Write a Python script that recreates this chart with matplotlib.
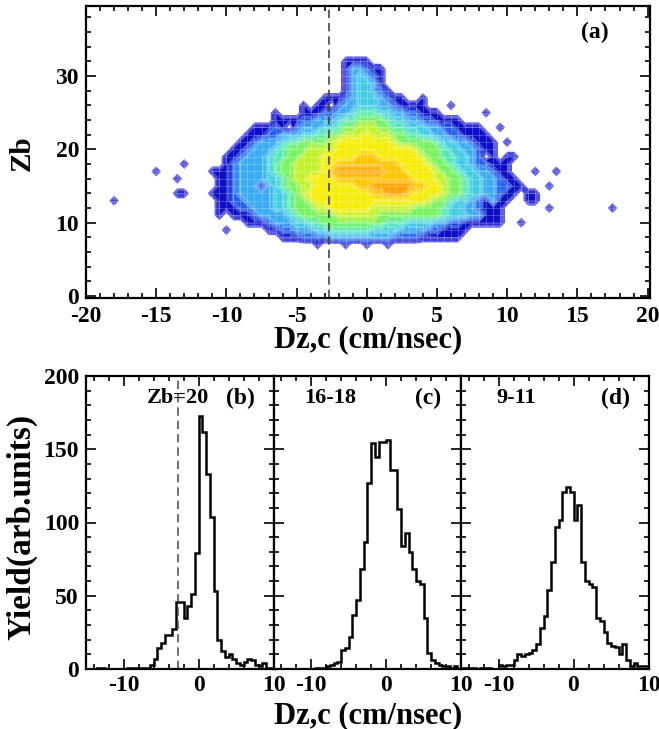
import numpy as np
import matplotlib
matplotlib.use("Agg")
import matplotlib.pyplot as plt
from matplotlib.colors import LinearSegmentedColormap, Normalize
from matplotlib.collections import LineCollection
from matplotlib.ticker import MultipleLocator

plt.rcParams['font.family'] = ['Liberation Serif', 'DejaVu Serif']
plt.rcParams['font.weight'] = 'bold'
plt.rcParams['axes.unicode_minus'] = False

# ---- panel (a): Zb vs Dz,c map ----
# one string per Zb row, one char per 0.5 cm/nsec cell (hex level, 0 = empty)
map_step = 0.5
map_rows = {
    32: (-1.5, "1111"),
    31: (-1.5, "133211"),
    30: (-1.5, "134321"),
    29: (-1.5, "134431"),
    28: (-1.5, "1344321"),
    27: (-3.0, "111234443211"),
    26: (-3.5, "1102334443321111"),
    25: (-4.5, "11122334555443322111"),
    24: (-6.5, "111122333455666654433221111"),
    23: (-8.0, "111210233344566777665544433221111"),
    22: (-8.5, "11122333445566777877766554433221111"),
    21: (-9.0, "1123334556666788888888766666544332111"),
    20: (-9.5, "11233345666777788888888888766654433211"),
    19: (-10.0, "112333455667778888899988888876655443201011"),
    18: (-10.0, "12333345667777889999999998888766544322111"),
    17: (-11.0, "111233334566777789AAAAAAA999888876654433211"),
    16: (-10.5, "1123333445677888899999999999888776654433211"),
    15: (-10.5, "1123331345667788888899AAAAAA9988766544332211"),
    14: (-11.0, "1112333334456788888888899AAA9888876654433211011"),
    13: (-10.5, "11223333445667" "8888888888888888" "7665443213110011"),
    12: (-10.5, "1112233344566677" "888888" "777777" "6666" "544332111"),
    11: (-10.5, "10111233334566666" "777777" "666666666" "544433111"),
    10: (-8.5, "11123334455" "666666666" "555" "4444" "33" "22" "111111"),
    9: (-7.0, "11223334455555544443333221111"),
    8: (-6.0, "111" "2222" "333333333" "2222" "111111"),
}
# isolated single counts (Dz, Zb)
lone_cells = [(-18, 13), (-15, 17), (-13, 18), (-13.5, 16), (-13.5, 14), (-13, 14),
              (-10, 9), (-6.5, 25), (-4.5, 26), (4, 27), (6, 26), (8.5, 25),
              (9.5, 23), (10, 21), (12, 17), (13.5, 17), (13, 15), (13, 12),
              (11, 10), (17.5, 12), (-3.5, 7), (-1.5, 7), (0, 7), (1.5, 7)]
dz_cut = -2.7

# ---- panels (b)-(d): yield histograms, 0.5 cm/nsec bins from -15 to 10 ----
hist_edges = np.arange(-15, 10.01, 0.5)
yield_zb20 = [0, 0, 0, 1, 1, 0, 0, 0, 0, 0,
              0, 1, 1, 1, 1, 1, 1, 3, 7, 14,
              18, 23, 23, 27, 46, 46, 35, 43, 51, 79,
              173, 162, 133, 104, 53, 20, 12, 8, 10, 7,
              4, 3, 5, 7, 6, 3, 2, 4, 1, 1]
yield_zb16_18 = [0, 0, 0, 0, 0, 0, 0, 0, 0, 0,
                 0, 1, 1, 1, 2, 3, 4, 5, 13, 14,
                 22, 37, 47, 68, 87, 127, 154, 145, 155, 155,
                 156, 136, 136, 109, 84, 93, 80, 68, 60, 58,
                 35, 11, 6, 4, 3, 2, 2, 1, 2, 0]
yield_zb9_11 = [1, 1, 1, 1, 0, 1, 1, 1, 0, 0,
                3, 2, 3, 3, 6, 10, 9, 10, 11, 13,
                17, 28, 36, 54, 73, 97, 102, 121, 124, 121,
                102, 112, 73, 60, 58, 56, 35, 33, 25, 18,
                16, 15, 10, 17, 6, 2, 4, 2, 2, 2]
hist_sets = [(yield_zb20, "Zb=20", "(b)"),
             (yield_zb16_18, "16-18", "(c)"),
             (yield_zb9_11, "9-11", "(d)")]

W, H = 659, 729
fig = plt.figure(figsize=(W / 100, H / 100), dpi=100)


def style(ax, size=17):
    ax.tick_params(which='both', direction='in', top=True, right=True,
                   labelsize=size, width=1.2)
    ax.tick_params(which='major', length=7, pad=5)
    ax.tick_params(which='minor', length=3.5)
    for sp in ax.spines.values():
        sp.set_linewidth(1.6)


# density grid
dz = np.arange(-19.5, 19.51, map_step)
zb = np.arange(4, 36)
Z = np.zeros((len(zb), len(dz)))
for row, (start, levels) in map_rows.items():
    j0 = int(round((start - dz[0]) / map_step))
    for k, c in enumerate(levels):
        Z[row - zb[0], j0 + k] = int(c, 16)
for x, y in lone_cells:
    Z[y - zb[0], int(round((x - dz[0]) / map_step))] = 1

stops = [(0.32, '#5c5ce8'), (1, '#0c0cc4'), (2, '#1f5cf0'), (3, '#38a8f4'),
         (4, '#44d0e4'), (5, '#52eab0'), (6, '#7af25a'), (7, '#c8f22a'),
         (8, '#f8ee06'), (9, '#ffc400'), (10, '#ffa200')]
cmap = LinearSegmentedColormap.from_list(
    'zb', [((v - 0.32) / (10 - 0.32), c) for v, c in stops])

ax = fig.add_axes([86 / W, 1 - 298 / H, 564 / W, 292 / H])
ax.contourf(dz, zb, Z, levels=np.linspace(0.32, 10.2, 60), cmap=cmap,
            norm=Normalize(0.32, 10), antialiased=True)

# faint light mesh over the filled area, as in the original rendering
mask = ax.contourf(dz, zb, Z, levels=[0.32, 99], colors='none')
clip = mask.get_paths()[0]
segs = [[(x, zb[0]), (x, zb[-1])] for x in dz] + \
       [[(dz[0], y), (dz[-1], y)] for y in zb]
mesh = LineCollection(segs, colors='white', linewidths=0.5, alpha=0.3)
ax.add_collection(mesh)
mesh.set_clip_path(clip, transform=ax.transData)

ax.axvline(dz_cut, color='#444444', lw=1.2, ls=(0, (5, 3)))
ax.set_xlim(-20, 20.17)
ax.set_ylim(-0.27, 39.56)
ax.xaxis.set_major_locator(MultipleLocator(5))
ax.xaxis.set_minor_locator(MultipleLocator(1))
ax.yaxis.set_major_locator(MultipleLocator(10))
ax.yaxis.set_minor_locator(MultipleLocator(2))
style(ax)
ax.tick_params(axis='x', which='major', pad=6)
ax.text(16.25, 36.0, "(a)", fontsize=17, fontweight='bold', ha='center', va='center')

fig.text(22 / W, 1 - 153 / H, "Zb", fontsize=21, fontweight='bold', rotation=90,
         ha='center', va='center')
fig.text(368 / W, 1 - 340 / H, "Dz,c (cm/nsec)", fontsize=22, fontweight='bold',
         ha='center', va='center')

# histograms
lefts = [86, 273.5, 461]
for i, (vals, tag, letter) in enumerate(hist_sets):
    hx = fig.add_axes([lefts[i] / W, 1 - 669 / H, 187.5 / W, 293 / H])
    hx.stairs(vals, hist_edges, color='black', linewidth=1.8)
    if i == 0:
        hx.axvline(dz_cut, color='#555555', lw=1.2, ls=(0, (5, 3)))
    hx.set_xlim(-15, 10)
    hx.set_ylim(0, 200)
    hx.xaxis.set_major_locator(MultipleLocator(10))
    hx.xaxis.set_minor_locator(MultipleLocator(2))
    hx.yaxis.set_major_locator(MultipleLocator(50))
    hx.yaxis.set_minor_locator(MultipleLocator(10))
    style(hx)
    hx.tick_params(axis='x', which='major', pad=4)
    if i > 0:
        hx.tick_params(labelleft=False)
    tag_x = [-2.7, -7.5, -7.6][i]
    hx.text(tag_x, 185, tag, fontsize=16, fontweight='bold', ha='center', va='center')
    hx.text(5.6, 185, letter, fontsize=17, fontweight='bold', ha='center', va='center')

fig.text(22 / W, 1 - 527 / H, "Yield(arb.units)", fontsize=24, fontweight='bold',
         rotation=90, ha='center', va='center')
fig.text(368 / W, 1 - 716 / H, "Dz,c (cm/nsec)", fontsize=22, fontweight='bold',
         ha='center', va='center')

fig.savefig("out.png", dpi=100)
